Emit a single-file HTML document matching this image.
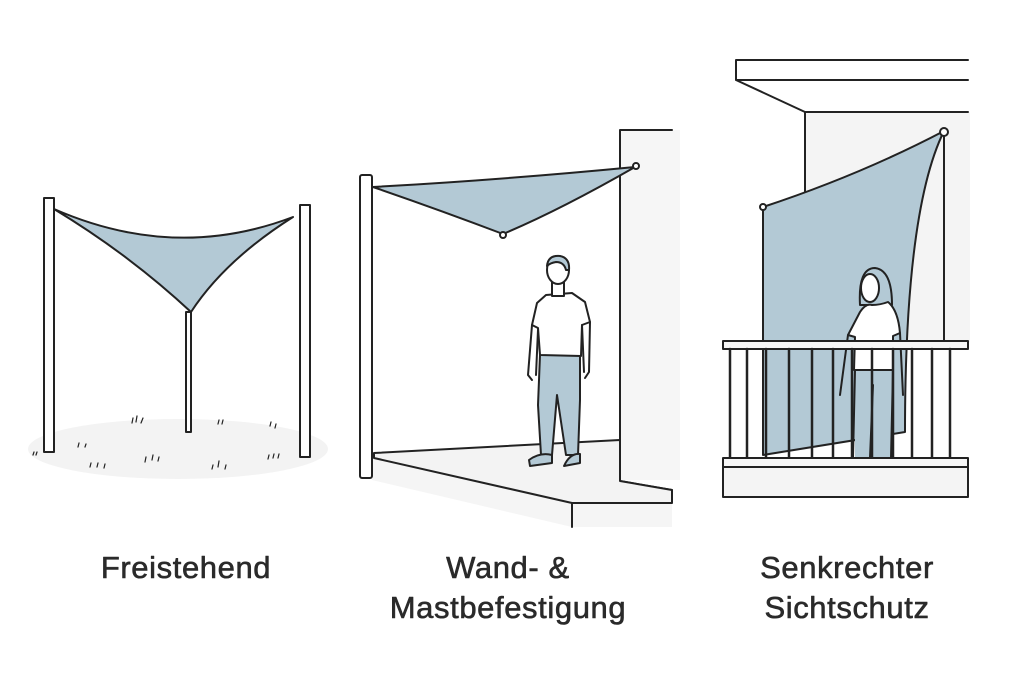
<!DOCTYPE html>
<html><head><meta charset="utf-8"><style>
html,body{margin:0;padding:0;background:#fff;width:1024px;height:683px;overflow:hidden}
text{font-family:"Liberation Sans",sans-serif;font-size:31px;fill:#2a2a2a;stroke:#2a2a2a;stroke-width:0.6;letter-spacing:0.6px;text-anchor:middle}
</style></head><body>
<svg width="1024" height="683" viewBox="0 0 1024 683" xmlns="http://www.w3.org/2000/svg" stroke="#222" stroke-width="2" fill="none" stroke-linejoin="round" stroke-linecap="round">
<!-- Panel 1 -->
<ellipse cx="178" cy="449" rx="150" ry="30" fill="#f3f3f3" stroke="none"/>
<path d="M54,209 Q175,262 293,217 Q225,260 191,312 Q130,255 54,209 Z" fill="#b3c9d5"/>
<rect x="186" y="312" width="5" height="120" fill="#fff"/>
<rect x="44" y="198" width="10" height="254" fill="#fff"/>
<rect x="300" y="205" width="10" height="252" fill="#fff"/>
<g stroke-width="1.2">
<path d="M132,423l1,-5M136,422l1,-6M141,423l2,-5M78,447l1,-4M85,447l1,-3M90,467l1,-4M97,467l1,-4M104,468l1,-4M145,462l1,-5M152,460l1,-5M158,461l1,-4M212,469l1,-4M218,467l1,-6M225,469l1,-4M218,424l1,-4M222,424l1,-4M270,426l1,-4M275,428l1,-4M268,459l1,-4M273,458l1,-4M278,458l1,-4M33,455l1,-3M36,455l1,-3"/>
</g>
<!-- Panel 2 -->
<path d="M372,458 L572,503 L672,503 L672,527 L572,527 L372,480 Z" fill="#f5f5f5" stroke="none"/>
<path d="M572,503 L572,527"/>
<rect x="620" y="130" width="60" height="350" fill="#f6f6f6" stroke="none"/>
<path d="M620,130 L672,130 M620,130 L620,481 L672,490"/>
<path d="M374,453 L620,440 L620,481 L672,490 L672,503 L572,503 L374,458 Z" fill="#f3f3f3"/>
<path d="M373,187 Q500,180 635,167 Q560,210 503,234 Q440,210 373,187 Z" fill="#b3c9d5"/>
<circle cx="636" cy="166" r="3" fill="#fff"/>
<circle cx="503" cy="235" r="3" fill="#fff"/>
<rect x="360" y="175" width="12" height="303" rx="2" fill="#fff"/>
<!-- man -->
<path d="M540,355 L538,405 L541,455 L552,455 L557,395 L566,455 L578,455 L580,400 L580,355 Z" fill="#b3c9d5"/>
<path d="M529,460 Q540,452 552,455 L552,463 L530,466 Z M564,466 Q570,453 580,454 L580,463 Z" fill="#b3c9d5"/>
<path d="M546,295 L537,303 L532,325 L538,328 L540,355 L581,356 L582,325 L590,322 L585,302 L572,293 Z" fill="#fff"/>
<path d="M532,325 L528,375 L532,380 M538,330 L536,375 M582,325 L584,372 M590,322 L589,372 L585,378"/>
<rect x="552" y="278" width="12" height="18" fill="#fff"/>
<ellipse cx="558" cy="270" rx="11" ry="14" fill="#fff"/>
<path d="M547,266 Q548,255 560,256 Q570,258 569,270 L566,270 Q564,262 556,262 Q550,263 547,266 Z" fill="#b3c9d5"/>
<!-- Panel 3 -->
<rect x="805" y="112" width="165" height="230" fill="#f4f4f4" stroke="none"/>
<path d="M736,60 L968,60 M736,60 L736,80 L968,80 M736,80 L805,112 L968,112 M805,112 L805,200"/>
<path d="M763,207 Q860,175 944,131 Q905,210 905,432 L763,455 Z" fill="#b3c9d5"/>
<path d="M944,131 L944,341"/>
<circle cx="763" cy="207" r="3" fill="#fff"/>
<circle cx="944" cy="132" r="4" fill="#fff"/>
<!-- woman -->
<path d="M860,305 Q858,268 875,268 Q892,270 892,305 Z" fill="#b3c9d5"/>
<ellipse cx="870" cy="288" rx="9" ry="14" fill="#fff"/>
<path d="M860,312 Q866,303 872,305 Q880,305 888,302 Q898,310 900,333 L893,336 L893,370 L854,370 L855,337 L848,335 Z" fill="#fff"/>
<rect x="855" y="370" width="38" height="88" fill="#b3c9d5" stroke="none"/>
<path d="M855,370 L853,458 M893,370 L891,458 M873,385 L870,458 M855,370 L893,370"/>
<path d="M848,335 L840,395 M900,333 L903,395"/>
<!-- railing -->
<rect x="723" y="341" width="245" height="8" fill="#f7f7f7"/>
<g stroke-width="2.5">
<path d="M730,349V458M747,349V458M766,349V458M789,349V458M812,349V458M833,349V458M852,349V458M872,349V458M893,349V458M912,349V458M932,349V458M950,349V458"/>
</g>
<rect x="723" y="458" width="245" height="9" fill="#f7f7f7"/>
<rect x="723" y="467" width="245" height="30" fill="#f4f4f4"/>
<!-- Labels -->
<text x="186" y="578">Freistehend</text>
<text x="508" y="578">Wand- &amp;</text>
<text x="508" y="618">Mastbefestigung</text>
<text x="847" y="578">Senkrechter</text>
<text x="847" y="618">Sichtschutz</text>
</svg>
</body></html>
